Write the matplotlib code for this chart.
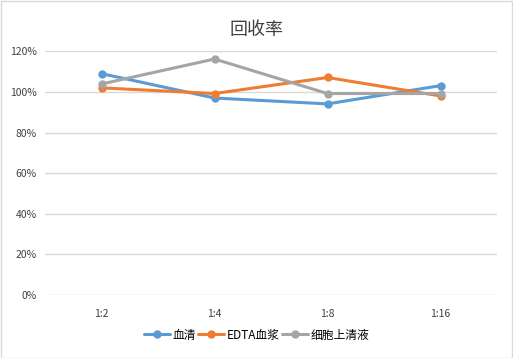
import matplotlib
matplotlib.use('Agg')
import matplotlib.pyplot as plt
from matplotlib.ticker import FuncFormatter
from matplotlib.patches import Rectangle

plt.rcParams['font.family'] = ['Noto Sans CJK SC', 'DejaVu Sans']

categories = ['1:2', '1:4', '1:8', '1:16']
serum = [109.0, 97.0, 94.1, 103.1]
edta_plasma = [102.0, 99.2, 107.1, 98.0]
supernatant = [103.9, 116.2, 99.2, 99.2]

series = [
    ('血清', serum, '#5B9BD5'),
    ('EDTA血浆', edta_plasma, '#ED7D31'),
    ('细胞上清液', supernatant, '#A5A5A5'),
]

fig = plt.figure(figsize=(5.13, 3.58), dpi=100)
ax = fig.add_axes([45 / 513, 1 - 295 / 358, 452 / 513, (295 - 51.3) / 358])

x = range(len(categories))
for name, vals, color in series:
    ax.plot(x, vals, color=color, linewidth=2.2, marker='o', markersize=5,
            label=name, solid_capstyle='round')

ax.set_xlim(-0.5, len(categories) - 0.5)
ax.set_ylim(0, 120)
ax.set_yticks(range(0, 121, 20))
ax.yaxis.set_major_formatter(FuncFormatter(lambda v, p: f'{v:.0f}%'))
ax.set_xticks(list(x))
ax.set_xticklabels(categories)
ax.grid(axis='y', color='#D9D9D9', linewidth=1)
ax.set_axisbelow(True)
for s in ax.spines.values():
    s.set_visible(False)
ax.tick_params(length=0, labelsize=7.5, colors='#404040', pad=6)
ax.tick_params(axis='x', pad=10)

fig.text(0.5, 1 - 30 / 358, '回收率', ha='center', va='center',
         fontsize=13, color='#404040')

fig.legend(loc='center', bbox_to_anchor=(0.5, 1 - 335 / 358), ncol=3,
           frameon=False, fontsize=8.5, handlelength=2.2, columnspacing=0.2,
           handletextpad=0.2, labelcolor='#000000')

fig.patches.append(Rectangle((0.001, 0.001), 0.997, 0.997, transform=fig.transFigure,
                             fill=False, edgecolor='#D9D9D9', linewidth=1))

fig.savefig('out.png', dpi=100)
